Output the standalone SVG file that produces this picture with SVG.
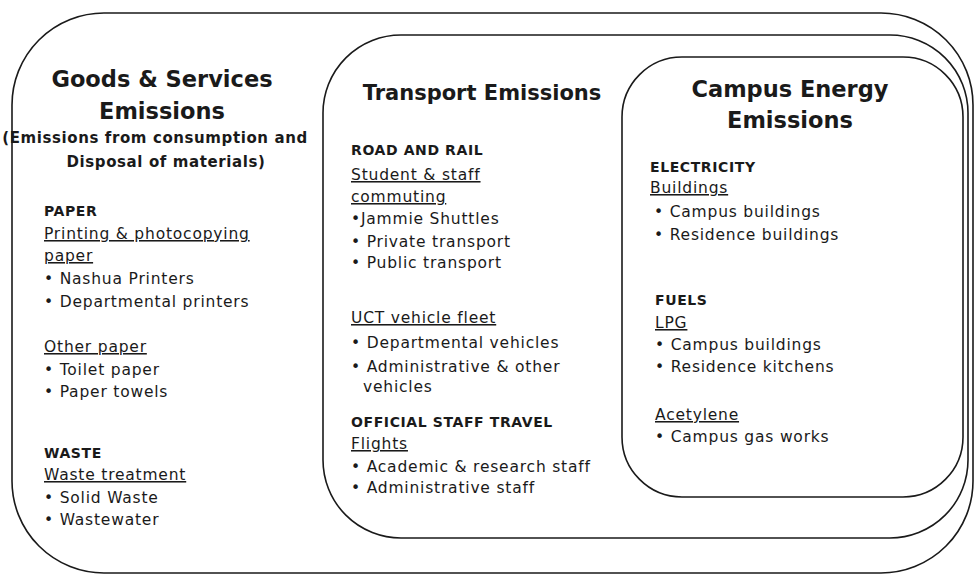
<svg xmlns="http://www.w3.org/2000/svg" width="975" height="576" viewBox="0 0 975 576">
<style>
.box{fill:none;stroke:#1a1a1a;stroke-width:1.6}
text{font-family:"DejaVu Sans","Liberation Sans",sans-serif;fill:#1a1a1a}
.title{font-size:22.5px;font-weight:bold;text-anchor:middle}
.tt{font-size:21px;font-weight:bold;text-anchor:middle}
.sub{font-size:15px;font-weight:bold;text-anchor:middle;letter-spacing:0.6px}
.head{font-size:14px;font-weight:bold;letter-spacing:0.6px}
.u{font-size:15.5px;text-decoration:underline;letter-spacing:0.8px}
.b{font-size:15.5px;letter-spacing:0.8px}
</style>
<rect width="975" height="576" fill="#ffffff"/>
<g id="goods-services">
<rect class="box" x="12" y="13" width="961" height="560" rx="92" ry="92"/>
<text class="title" x="162" y="87">Goods &amp; Services</text>
<text class="title" x="162" y="119">Emissions</text>
<text class="sub" x="155" y="143">(Emissions from consumption and</text>
<text class="sub" x="166" y="167">Disposal of materials)</text>
<text class="head" x="44" y="216">PAPER</text>
<text class="u" x="44" y="239">Printing &amp; photocopying</text>
<text class="u" x="44" y="261">paper</text>
<text class="b" x="44" y="284">• Nashua Printers</text>
<text class="b" x="44" y="307">• Departmental printers</text>
<text class="u" x="44" y="352">Other paper</text>
<text class="b" x="44" y="375">• Toilet paper</text>
<text class="b" x="44" y="397">• Paper towels</text>
<text class="head" x="44" y="458">WASTE</text>
<text class="u" x="44" y="480">Waste treatment</text>
<text class="b" x="44" y="503">• Solid Waste</text>
<text class="b" x="44" y="525">• Wastewater</text>
</g>
<g id="transport">
<rect class="box" x="323" y="35" width="645" height="503" rx="78" ry="78"/>
<text class="tt" x="482" y="100">Transport Emissions</text>
<text class="head" x="351" y="155">ROAD AND RAIL</text>
<text class="u" x="351" y="180">Student &amp; staff</text>
<text class="u" x="351" y="202">commuting</text>
<text class="b" x="351" y="224">•Jammie Shuttles</text>
<text class="b" x="351" y="247">• Private transport</text>
<text class="b" x="351" y="268">• Public transport</text>
<text class="u" x="351" y="323">UCT vehicle fleet</text>
<text class="b" x="351" y="348">• Departmental vehicles</text>
<text class="b" x="351" y="372">• Administrative &amp; other</text>
<text class="b" x="363" y="392">vehicles</text>
<text class="head" x="351" y="427">OFFICIAL STAFF TRAVEL</text>
<text class="u" x="351" y="449">Flights</text>
<text class="b" x="351" y="472">• Academic &amp; research staff</text>
<text class="b" x="351" y="493">• Administrative staff</text>
</g>
<g id="campus-energy">
<rect class="box" x="622" y="57" width="341" height="440" rx="60" ry="60"/>
<text class="title" x="790" y="97">Campus Energy</text>
<text class="title" x="790" y="128">Emissions</text>
<text class="head" x="650" y="172">ELECTRICITY</text>
<text class="u" x="650" y="193">Buildings</text>
<text class="b" x="654" y="217">• Campus buildings</text>
<text class="b" x="654" y="240">• Residence buildings</text>
<text class="head" x="655" y="305">FUELS</text>
<text class="u" x="655" y="328">LPG</text>
<text class="b" x="655" y="350">• Campus buildings</text>
<text class="b" x="655" y="372">• Residence kitchens</text>
<text class="u" x="655" y="420">Acetylene</text>
<text class="b" x="655" y="442">• Campus gas works</text>
</g>
<g id="connectors"></g>
</svg>
